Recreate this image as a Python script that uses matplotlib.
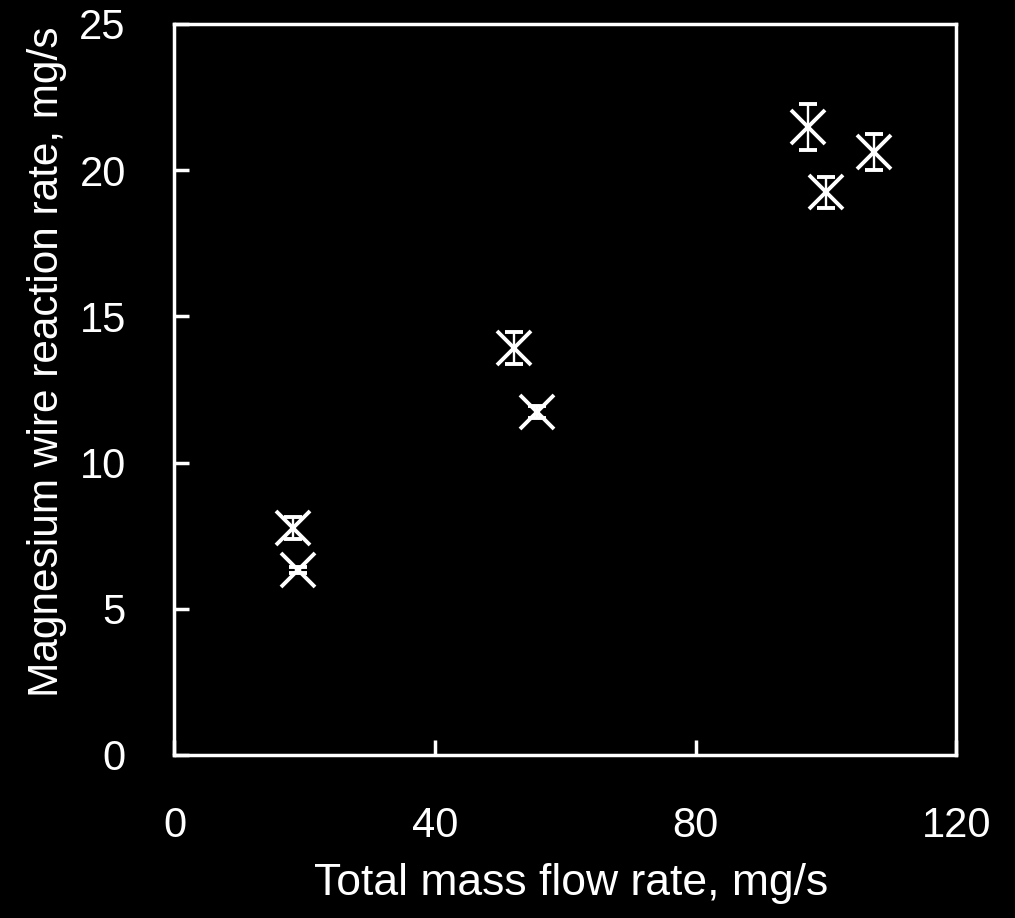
import matplotlib
matplotlib.use('Agg')
import matplotlib.pyplot as plt

# data
flow_rate = [18.2, 18.9, 52.1, 55.6, 97.2, 107.3, 100.0]
reaction_rate = [7.76, 6.33, 13.92, 11.73, 21.48, 20.62, 19.25]
reaction_err = [0.39, 0.10, 0.56, 0.22, 0.79, 0.62, 0.53]

xticks = [0, 40, 80, 120]
yticks = [0, 5, 10, 15, 20, 25]

plt.rcParams['font.family'] = ['Liberation Sans', 'DejaVu Sans']

fig = plt.figure(figsize=(10.15, 9.18), dpi=100, facecolor='black')
ax = fig.add_axes([0.1719, 0.1776, 0.7704, 0.7963], facecolor='black')

ax.errorbar(flow_rate, reaction_rate, yerr=reaction_err, fmt='x', color='white',
            markersize=24, markeredgewidth=2.8, elinewidth=1.7,
            capsize=6.5, capthick=2.0)

ax.set_xlim(0, 120)
ax.set_ylim(0, 25)
ax.set_xticks(xticks)
ax.set_yticks(yticks)

for side in ['left', 'right', 'top', 'bottom']:
  ax.spines[side].set_color('white')
  ax.spines[side].set_linewidth(2.5)

ax.tick_params(axis='both', direction='in', length=11, width=2.5, colors='white',
               labelsize=30)
ax.tick_params(axis='x', pad=37)
ax.tick_params(axis='y', pad=35)

ax.set_xlabel('Total mass flow rate, mg/s', fontsize=32, color='white')
ax.set_ylabel('Magnesium wire reaction rate, mg/s', fontsize=30.5, color='white')
ax.xaxis.set_label_coords(0.507, -0.148)
ax.yaxis.set_label_coords(-0.138, 0.538)

fig.savefig('out.png', dpi=100, facecolor='black')
